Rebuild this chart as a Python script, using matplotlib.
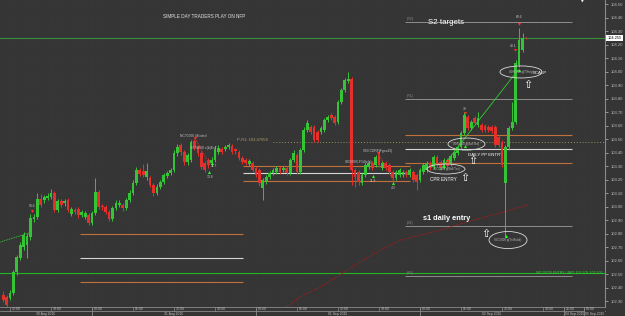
import numpy as np
import pandas as pd
import matplotlib
matplotlib.use('Agg')
import matplotlib.pyplot as plt
from matplotlib.patches import Ellipse
from matplotlib.transforms import blended_transform_factory

plt.rcParams['font.family'] = ['Liberation Sans', 'DejaVu Sans']

bg = '#353535'
up_col = '#35c435'
dn_col = '#e4302b'
orange = '#c2703a'
light = '#d6d6d6'
gray = '#8e8e8e'
txt = '#c4c4c4'

# 30 min candles
opens = [102.345, 102.330, 102.323, 102.360, 102.515, 102.619, 102.700, 102.715, 102.774, 102.908,
         102.923, 103.056, 103.049, 103.063, 103.071, 103.100, 102.974, 103.041, 103.026, 103.049,
         102.945, 102.974, 102.982, 102.937, 102.923, 102.937, 102.878, 102.952, 103.108, 103.004,
         102.997, 102.960, 102.908, 102.989, 103.012, 103.012, 102.989, 103.049, 103.100, 103.174,
         103.271, 103.263, 103.219, 103.211, 103.160, 103.100, 103.145, 103.182, 103.226, 103.249,
         103.271, 103.397, 103.456, 103.404, 103.330, 103.345, 103.486, 103.441, 103.397, 103.323,
         103.345, 103.323, 103.345, 103.404, 103.426, 103.426, 103.441, 103.449, 103.426, 103.404,
         103.360, 103.345, 103.315, 103.323, 103.286, 103.271, 103.137, 103.182, 103.219, 103.249,
         103.256, 103.286, 103.271, 103.286, 103.249, 103.345, 103.382, 103.256, 103.419, 103.567,
         103.589, 103.589, 103.552, 103.552, 103.567, 103.641, 103.678, 103.663, 103.626, 103.774,
         103.863, 103.930, 103.945, 103.271, 103.256, 103.174, 103.234, 103.293, 103.323, 103.308,
         103.382, 103.286, 103.323, 103.308, 103.256, 103.211, 103.234, 103.234, 103.256, 103.234,
         103.256, 103.234, 103.197, 103.256, 103.271, 103.323, 103.293, 103.367, 103.330, 103.293,
         103.345, 103.315, 103.360, 103.397, 103.441, 103.545, 103.663, 103.582, 103.656, 103.604,
         103.604, 103.597, 103.589, 103.589, 103.589, 103.515, 103.478, 103.174, 103.441, 103.582,
         103.626, 104.049, 104.160]
highs = [102.374, 102.345, 102.382, 102.530, 102.641, 102.737, 102.811, 102.804, 102.945, 102.945,
         103.100, 103.093, 103.086, 103.100, 103.130, 103.115, 103.056, 103.056, 103.056, 103.063,
         102.997, 102.989, 102.997, 102.974, 102.967, 102.952, 102.967, 103.211, 103.123, 103.019,
         103.012, 102.974, 103.004, 103.049, 103.049, 103.026, 103.063, 103.123, 103.197, 103.293,
         103.286, 103.315, 103.323, 103.226, 103.174, 103.167, 103.197, 103.249, 103.263, 103.286,
         103.419, 103.463, 103.471, 103.419, 103.397, 103.493, 103.500, 103.456, 103.411, 103.337,
         103.360, 103.367, 103.449, 103.456, 103.441, 103.456, 103.471, 103.463, 103.434, 103.419,
         103.374, 103.360, 103.352, 103.337, 103.300, 103.286, 103.211, 103.234, 103.263, 103.286,
         103.300, 103.300, 103.300, 103.300, 103.360, 103.419, 103.397, 103.434, 103.589, 103.641,
         103.604, 103.604, 103.567, 103.597, 103.656, 103.678, 103.693, 103.678, 103.789, 103.878,
         103.952, 103.997, 103.960, 103.286, 103.271, 103.249, 103.323, 103.337, 103.337, 103.382,
         103.419, 103.337, 103.337, 103.323, 103.271, 103.271, 103.286, 103.271, 103.271, 103.286,
         103.271, 103.249, 103.286, 103.323, 103.337, 103.337, 103.382, 103.382, 103.345, 103.360,
         103.360, 103.389, 103.419, 103.456, 103.560, 103.700, 103.678, 103.641, 103.671, 103.700,
         103.619, 103.611, 103.604, 103.604, 103.604, 103.530, 103.493, 103.456, 103.597, 103.774,
         104.086, 104.323, 104.286]
lows = [102.293, 102.249, 102.308, 102.345, 102.493, 102.604, 102.678, 102.619, 102.752, 102.886,
        102.908, 102.997, 103.026, 103.049, 103.056, 102.960, 102.960, 102.997, 103.004, 102.960,
        102.930, 102.945, 102.915, 102.923, 102.908, 102.863, 102.863, 102.937, 102.982, 102.974,
        102.945, 102.893, 102.893, 102.974, 102.997, 102.967, 102.974, 103.034, 103.086, 103.160,
        103.226, 103.219, 103.197, 103.145, 103.078, 103.086, 103.130, 103.167, 103.211, 103.234,
        103.256, 103.374, 103.382, 103.308, 103.308, 103.330, 103.419, 103.374, 103.278, 103.256,
        103.286, 103.300, 103.330, 103.389, 103.389, 103.411, 103.426, 103.389, 103.389, 103.345,
        103.315, 103.308, 103.300, 103.256, 103.219, 103.152, 103.049, 103.167, 103.204, 103.234,
        103.241, 103.241, 103.256, 103.234, 103.234, 103.330, 103.241, 103.241, 103.404, 103.552,
        103.537, 103.478, 103.478, 103.537, 103.552, 103.626, 103.641, 103.604, 103.611, 103.760,
        103.849, 103.915, 103.160, 103.145, 103.160, 103.160, 103.219, 103.278, 103.271, 103.293,
        103.293, 103.271, 103.271, 103.241, 103.182, 103.197, 103.219, 103.219, 103.219, 103.219,
        103.182, 103.123, 103.182, 103.241, 103.256, 103.271, 103.278, 103.293, 103.271, 103.278,
        103.286, 103.300, 103.345, 103.382, 103.426, 103.530, 103.567, 103.567, 103.604, 103.589,
        103.552, 103.552, 103.552, 103.545, 103.441, 103.441, 103.293, 102.774, 103.419, 103.567,
        103.611, 104.034, 104.145]
closes = [102.308, 102.271, 102.360, 102.515, 102.626, 102.715, 102.789, 102.782, 102.915, 102.923,
          103.056, 103.012, 103.071, 103.078, 103.100, 102.974, 103.041, 103.012, 103.041, 102.974,
          102.982, 102.960, 102.937, 102.960, 102.952, 102.878, 102.952, 103.108, 102.997, 102.997,
          102.960, 102.908, 102.989, 103.026, 103.026, 102.989, 103.049, 103.100, 103.174, 103.271,
          103.241, 103.234, 103.263, 103.160, 103.100, 103.145, 103.182, 103.234, 103.249, 103.271,
          103.397, 103.441, 103.404, 103.330, 103.382, 103.478, 103.441, 103.397, 103.293, 103.271,
          103.308, 103.345, 103.426, 103.434, 103.404, 103.441, 103.456, 103.404, 103.411, 103.360,
          103.330, 103.323, 103.337, 103.271, 103.234, 103.174, 103.197, 103.219, 103.249, 103.271,
          103.286, 103.256, 103.286, 103.249, 103.345, 103.397, 103.256, 103.419, 103.567, 103.619,
          103.552, 103.493, 103.493, 103.582, 103.641, 103.663, 103.656, 103.619, 103.774, 103.863,
          103.937, 103.945, 103.271, 103.219, 103.182, 103.234, 103.308, 103.323, 103.286, 103.367,
          103.308, 103.323, 103.286, 103.256, 103.211, 103.256, 103.271, 103.256, 103.234, 103.271,
          103.197, 103.182, 103.271, 103.308, 103.323, 103.286, 103.367, 103.308, 103.286, 103.345,
          103.300, 103.374, 103.404, 103.441, 103.545, 103.678, 103.582, 103.626, 103.619, 103.656,
          103.567, 103.567, 103.567, 103.560, 103.456, 103.456, 103.308, 103.441, 103.582, 103.626,
          104.063, 104.234, 104.249]

last_price = 104.249
sell_limit = 102.505
p_r1 = 103.47658

# cpr bands per session: start, end (hours after 31 Aug 00:00), top / pivot / bottom
cpr_spans = [(-1.8, 22.1), (22.1, 46.5), (45.8, 70.2)]
cpr_levels = [(102.797, 102.619, 102.441), (103.300, 103.249, 103.190), (103.530, 103.426, 103.323)]
pivot_names = ['(R2)', '(R1)', '(S1)', '(S2)']
pivot_levels = [104.367, 103.797, 102.856, 102.486]

# slow moving average (red dashed)
ma_t = [28.5, 30.4, 33.4, 36.3, 39.2, 42.2, 45.1, 49.9, 54.9, 59.7, 63.7]
ma_p = [102.256, 102.330, 102.404, 102.493, 102.589, 102.678, 102.752, 102.811, 102.886, 102.952, 103.011]

hour_ticks = [-12, -6, 0, 6, 12, 18, 24, 30, 36, 42, 48, 54, 60, 66, 69, 72]
hour_labels = ['12:00', '18:00', '00:00', '06:00', '12:00', '18:00', '00:00', '06:00',
               '12:00', '18:00', '00:00', '06:00', '12:00', '18:00', '21:00', '00:00']
day_edges = [0, 24, 48, 69, 72]
day_labels = ['30 Aug 2015', '31 Aug 2015', '01 Sep 2015', '02 Sep 2015', '04 Sep 2015', '05 Sep 2015']

times = pd.date_range('2015-08-30 11:00', periods=len(closes), freq='30min')
t = ((times - pd.Timestamp('2015-08-31 00:00')) / pd.Timedelta(hours=1)).to_numpy()
o = np.array(opens); h = np.array(highs); l = np.array(lows); c = np.array(closes)

fig = plt.figure(figsize=(6.25, 3.16), dpi=100, facecolor=bg)
ax = fig.add_axes([0, 9/316, 605/625, 307/316], facecolor=bg)
x0, x1 = -13.46, 75.07
ax.set_xlim(x0, x1)
ax.set_ylim(102.256, 104.53)

# grid
yt = np.round(np.arange(102.3, 104.51, 0.1), 2)
for v in yt:
    ax.axhline(v, color='#3c3c3c', lw=0.5, ls=':', zorder=0)
for ht in hour_ticks:
    ax.axvline(ht, color='#3c3c3c', lw=0.5, ls=':', zorder=0)

# cpr + pivots
for (a, b), lv in zip(cpr_spans, cpr_levels):
    ax.hlines(lv, a, b, colors=[orange, light, orange], lw=0.8, zorder=2)
a, b = cpr_spans[2]
ax.hlines(pivot_levels, a, b, colors=gray, lw=0.7, zorder=2)
for name, v in zip(pivot_names, pivot_levels):
    ax.text(a + 0.2, v + 0.008, name, color=gray, fontsize=2.6, va='bottom')

ax.axhline(last_price, color='#3a8f3a', lw=0.8, zorder=2)
ax.axhline(sell_limit, color='#22b622', lw=0.8, zorder=2)
ax.hlines(p_r1, 26.5, x1, colors='#9a9258', lw=0.7, linestyles=(0, (1, 2)), zorder=2)
ax.text(21.22, p_r1 + 0.016, 'P-R1: 103.47658', color='#aaa062', fontsize=3.0, va='center')
ax.text(74.7, sell_limit + 0.002, '90129700 ENTRY LIMIT 102.505-102.505', color='#33d833',
        fontsize=2.5, ha='right', va='center')

ax.plot(ma_t, ma_p, color='#b01818', lw=0.6, ls=(0, (2, 1.5)), zorder=2)

# candles
col = np.where(c >= o, up_col, dn_col)
ax.vlines(t, l, h, colors=col, lw=0.7, zorder=3)
ax.bar(t, np.maximum(np.abs(c - o), 0.004), bottom=np.minimum(o, c), width=0.4,
       color=col, lw=0, zorder=4)

# trade lines
ax.plot([-14.5, -8.78], [102.72, 102.811], color='#2fbf2f', lw=0.6, ls=(0, (2, 1)), zorder=5)
ax.plot([50.93, 62.34], [103.271, 104.011], color='#2fd02f', lw=0.6, zorder=5)
ax.plot([15.07, 16.98], [103.508, 103.330], color='#d03030', lw=0.6, ls=(0, (2, 1)), zorder=5)
ax.plot([41.86, 44.05], [103.397, 103.197], color='#d03030', lw=0.6, ls=(0, (2, 1)), zorder=5)

red_t = [-8.78, 15.07, 41.86, 54.59, 61.90, 62.49]
red_p = [102.967, 103.508, 103.397, 103.693, 104.160, 104.352]
grn_t = [17.12, 17.56, 41.12, 44.05, 51.51, 54.59, 62.49, 60.59]
grn_p = [103.256, 103.323, 103.226, 103.174, 103.300, 103.449, 104.011, 102.782]
ax.plot(red_t, red_p, 'v', color='#ff2a2a', ms=2.2, mew=0, zorder=6)
ax.plot(grn_t, grn_p, '^', color='#22ff22', ms=2.2, mew=0, zorder=6)

for s, x, y in [('98.6', -8.78, 103.004), ('11.7', 17.9, 103.300), ('13.8', 17.27, 103.219),
                ('11.8', 41.12, 103.189), ('4.3', 44.05, 103.137), ('33', 54.59, 103.723),
                ('40.1', 61.6, 104.189), ('60.6', 62.49, 104.404)]:
    ax.text(x, y, s, color=txt, fontsize=2.4, ha='center', va='center', zorder=7)
ax.text(63.52, 104.241, 'T', color='#ff3030', fontsize=3, ha='center', va='center', zorder=7)

for s, x, y in [('NC70000 #Exited', 12.88, 103.523), ('SS70000 x(b)ExT', 14.34, 103.434),
                ('993 CDRF(Fgss43)', 39.66, 103.411), ('S05000X-F14(elp)', 37.03, 103.330)]:
    ax.text(x, y, s, color=txt, fontsize=2.4, va='center', zorder=7)

for (x, y, w, hh, s) in [(54.8, 103.463, 5.41, 0.089, 'S0S3320 p(SunTea)'),
                         (51.8, 103.278, 5.56, 0.074, 'S0C5000 p(Stdl Tex)'),
                         (62.78, 103.997, 6.15, 0.089, 'S0S0000 p(T/Step)'),
                         (60.88, 102.752, 5.56, 0.126, 'S0C5000 p(Tr=Bubb)')]:
    ax.add_patch(Ellipse((x, y), w, hh, fill=False, ec='#dcdcdc', lw=0.6, zorder=7))
    ax.text(x, y, s, color='#bdbdbd', fontsize=2.1, ha='center', va='center', zorder=7)

for x, y in [(55.76, 103.337), (54.59, 103.211), (57.66, 102.797), (63.81, 103.900)]:
    ax.text(x, y, '\u21e7', color='white', fontsize=8, ha='center', va='center',
            family='DejaVu Sans', zorder=8)

ax.text(10.4, 104.411, 'SIMPLE DAY TRADERS PLAY ON NFP', color='#e6e6e6', fontsize=3.3, va='center')
ax.text(49.17, 104.367, 'S2 targets', color='white', fontsize=5.7, va='center')
ax.text(48.44, 102.908, 's1 daily entry', color='white', fontsize=5.3, fontweight='bold', va='center')
ax.text(49.47, 103.204, 'CPR ENTRY', color='white', fontsize=3.3, va='center')
ax.text(55.03, 103.382, 'DAILY PP ENTRY', color='white', fontsize=3.2, va='center')
ax.text(64.54, 103.989, 'SCALP', color='white', fontsize=3.2, va='center')
ax.text(71.71, 104.52, '\u25bc', color='white', fontsize=2.5, ha='center', va='center',
        family='DejaVu Sans')

# right price axis
for s in ['top', 'left']:
    ax.spines[s].set_visible(False)
ax.spines['right'].set_color('#8a8a8a')
ax.spines['right'].set_linewidth(0.8)
ax.spines['bottom'].set_color('#8a8a8a')
ax.spines['bottom'].set_linewidth(0.6)
ax.yaxis.tick_right()
ax.set_yticks(yt)
ax.set_yticklabels([f'{v:.2f}' for v in yt])
ax.tick_params(axis='y', direction='out', length=2, width=0.5, colors='#bdbdbd', labelsize=3, pad=2)
ax.set_xticks([])

bt = blended_transform_factory(ax.transAxes, ax.transData)
ax.text(1.004, last_price, '104.255', transform=bt, fontsize=2.8, color='black', va='center',
        bbox=dict(boxstyle='square,pad=0.25', fc='white', ec='none'), clip_on=False)

# bottom time strip
hpx = 307.0
r1, r2 = -4 / hpx, -9 / hpx
xt = ax.get_xaxis_transform()
ax.plot([0, 1], [r1, r1], transform=ax.transAxes, color='#8a8a8a', lw=0.6, clip_on=False)
for ht, s in zip(hour_ticks, hour_labels):
    ax.plot([ht, ht], [0, r1], transform=xt, color='#8a8a8a', lw=0.5, clip_on=False)
    ax.text(ht + 0.3, r1 / 2, s, transform=xt, color=txt, fontsize=2.5, va='center', clip_on=False)
for d in day_edges:
    ax.plot([d, d], [0, r2], transform=xt, color='#8a8a8a', lw=0.6, clip_on=False)
centers = [(x0 + 0) / 2, 12, 36, 58.5]
for x, s in zip(centers, day_labels[:4]):
    ax.text(x, (r1 + r2) / 2, s, transform=xt, color=txt, fontsize=2.4, ha='center', va='center', clip_on=False)
ax.text(69.2, (r1 + r2) / 2, day_labels[4], transform=xt, color=txt, fontsize=2.4, va='center', clip_on=False)
ax.text(72.2, (r1 + r2) / 2, day_labels[5], transform=xt, color=txt, fontsize=2.4, va='center', clip_on=False,
        bbox=dict(boxstyle='square,pad=0.1', fc=bg, ec='none'))

fig.savefig('out.png', dpi=100, facecolor=bg)
